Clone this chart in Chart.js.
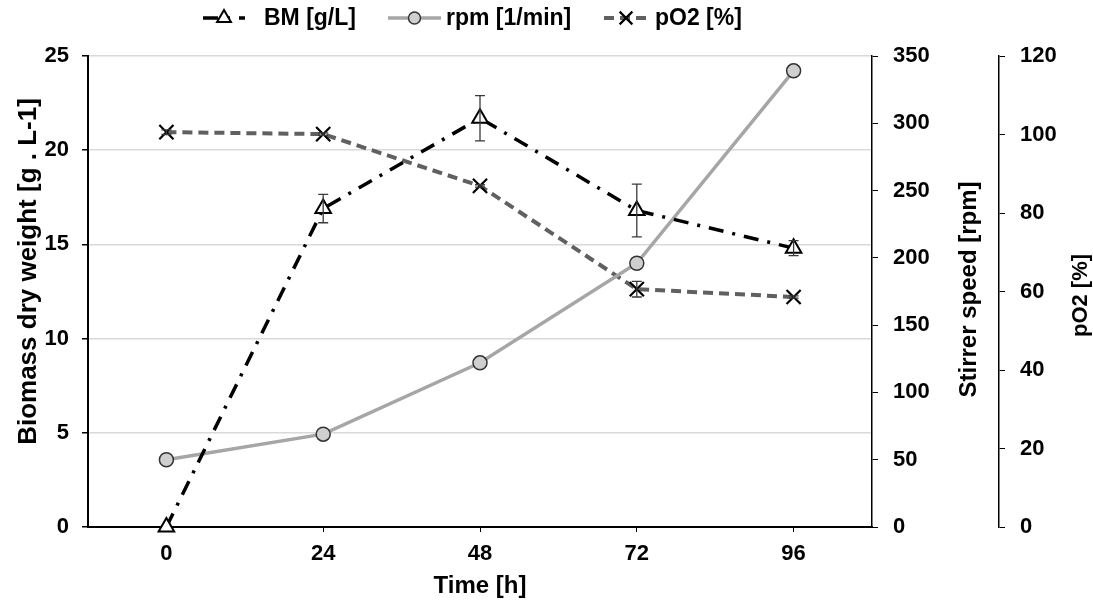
<!DOCTYPE html>
<html>
<head>
<meta charset="utf-8">
<script src="https://cdn.jsdelivr.net/npm/chart.js@4.4.0/dist/chart.umd.min.js"></script>
<style>
  html, body { margin: 0; padding: 0; background: #fff; }
  #wrap { width: 1093px; height: 603px; }
</style>
</head>
<body>
<div id="wrap"><canvas id="chart" width="1093" height="603"></canvas></div>
<script>
const hours = [0, 24, 48, 72, 96];
const biomass = [0, 16.9, 21.7, 16.8, 14.8];
const biomassErr = [0, 0.75, 1.2, 1.4, 0.4];
const rpm = [50, 69, 122, 196, 339];
const pO2 = [100.6, 100.1, 86.9, 60.6, 58.6];
const pO2Err = [0.6, 0.3, 0.3, 2, 0.3];

const font = "'Liberation Sans', Arial, sans-serif";
const tickFont = { family: font, size: 22, weight: "bold" };
const titleFont = (size) => ({ family: font, size: size, weight: "bold" });

const pts = (vals) => hours.map((h, i) => ({ x: h, y: vals[i] }));

const errorBars = {
  id: "errorBars",
  afterDatasetsDraw(chart) {
    const ctx = chart.ctx;
    chart.data.datasets.forEach((ds, di) => {
      if (!ds.errors) return;
      const meta = chart.getDatasetMeta(di);
      const yScale = chart.scales[ds.yAxisID];
      ctx.save();
      ctx.strokeStyle = "#3a3a3a";
      ctx.lineWidth = 1.3;
      meta.data.forEach((pt, i) => {
        const e = ds.errors[i];
        if (!e) return;
        const v = ds.data[i].y;
        const top = yScale.getPixelForValue(v + e);
        const bot = yScale.getPixelForValue(v - e);
        ctx.beginPath();
        ctx.moveTo(pt.x, top); ctx.lineTo(pt.x, bot);
        ctx.moveTo(pt.x - 5, top); ctx.lineTo(pt.x + 5, top);
        ctx.moveTo(pt.x - 5, bot); ctx.lineTo(pt.x + 5, bot);
        ctx.stroke();
      });
      ctx.restore();
    });
  }
};

// y titles all read bottom-to-top, so they are drawn here
const yTitles = {
  id: "yTitles",
  afterDraw(chart) {
    const ctx = chart.ctx;
    const mid = (chart.chartArea.top + chart.chartArea.bottom) / 2;
    const list = [
      { text: "Biomass dry weight [g . L-1]", x: chart.scales.y.left + 29, y: mid - 20, size: 26 },
      { text: "Stirrer speed [rpm]", x: chart.scales.y1.right - 30, y: mid - 2, size: 24 },
      { text: "pO2 [%]", x: chart.scales.y2.right - 12, y: mid + 4, size: 22 }
    ];
    list.forEach((t) => {
      ctx.save();
      ctx.translate(t.x, t.y);
      ctx.rotate(-Math.PI / 2);
      ctx.fillStyle = "#000";
      ctx.font = "bold " + t.size + "px " + font;
      ctx.textAlign = "center";
      ctx.textBaseline = "middle";
      ctx.fillText(t.text, 0, 0);
      ctx.restore();
    });
  }
};

// legend with line + marker, like the spreadsheet one
const lineLegend = {
  id: "lineLegend",
  afterDraw(chart) {
    const ctx = chart.ctx;
    const items = [
      { ds: 0, x0: 203, x1: 245, text: 264 },
      { ds: 1, x0: 388, x1: 441, text: 446 },
      { ds: 2, x0: 604, x1: 648, text: 655 }
    ];
    const y = 18;
    items.forEach((it) => {
      const ds = chart.data.datasets[it.ds];
      ctx.save();
      ctx.strokeStyle = ds.borderColor;
      ctx.lineWidth = ds.borderWidth;
      ctx.setLineDash(ds.borderDash || []);
      ctx.beginPath();
      ctx.moveTo(it.x0, y); ctx.lineTo(it.x1, y);
      ctx.stroke();
      ctx.setLineDash([]);
      ctx.fillStyle = ds.pointBackgroundColor;
      ctx.strokeStyle = ds.pointBorderColor;
      ctx.lineWidth = ds.pointBorderWidth;
      Chart.helpers.drawPoint(ctx, {
        pointStyle: ds.pointStyle, radius: ds.pointRadius - 1,
        rotation: 0, borderWidth: ds.pointBorderWidth
      }, (it.x0 + it.x1) / 2, y);
      ctx.fillStyle = "#000";
      ctx.font = "bold 23px " + font;
      ctx.textBaseline = "middle";
      ctx.fillText(ds.label, it.text, y + 1);
      ctx.restore();
    });
  }
};

new Chart(document.getElementById("chart").getContext("2d"), {
  type: "line",
  data: {
    datasets: [
      {
        label: "BM [g/L]",
        data: pts(biomass),
        errors: biomassErr,
        yAxisID: "y",
        clip: false,
        borderColor: "#000",
        borderWidth: 3.5,
        borderDash: [15, 9, 3, 9],
        pointStyle: "triangle",
        pointRadius: 9,
        pointBackgroundColor: "#fff",
        pointBorderColor: "#000",
        pointBorderWidth: 2
      },
      {
        label: "rpm [1/min]",
        data: pts(rpm),
        yAxisID: "y1",
        clip: false,
        borderColor: "#a6a6a6",
        borderWidth: 3.5,
        pointStyle: "circle",
        pointRadius: 7,
        pointBackgroundColor: "#cfcfcf",
        pointBorderColor: "#333",
        pointBorderWidth: 1.5
      },
      {
        label: "pO2 [%]",
        data: pts(pO2),
        errors: pO2Err,
        yAxisID: "y2",
        clip: false,
        borderColor: "#606060",
        borderWidth: 4,
        borderDash: [10, 6],
        pointStyle: "crossRot",
        pointRadius: 10,
        pointBackgroundColor: "#000",
        pointBorderColor: "#000",
        pointBorderWidth: 2.2
      }
    ]
  },
  options: {
    responsive: false,
    animation: false,
    layout: { padding: { top: 56, left: 0, right: 0, bottom: 0 } },
    plugins: { legend: { display: false }, tooltip: { enabled: false } },
    elements: { line: { tension: 0 } },
    scales: {
      x: {
        type: "linear",
        min: -12,
        max: 108,
        afterBuildTicks: (s) => { s.ticks = hours.map((v) => ({ value: v })); },
        afterFit: (s) => { s.height = 76; },
        border: { color: "#000", width: 2 },
        grid: { drawOnChartArea: false, tickLength: 5, tickColor: "#000" },
        ticks: { color: "#000", font: tickFont, padding: 9 },
        title: { display: true, text: "Time [h]", color: "#000", font: titleFont(24), padding: { top: 0, bottom: 2 } }
      },
      y: {
        position: "left",
        min: 0,
        max: 25,
        afterFit: (s) => { s.width = 88; },
        border: { color: "#000", width: 2 },
        grid: { color: "#d9d9d9", lineWidth: 1.5, tickLength: 6, tickColor: "#000" },
        ticks: { stepSize: 5, color: "#000", font: tickFont, padding: 13 }
      },
      y1: {
        position: "right",
        min: 0,
        max: 350,
        afterFit: (s) => { s.width = 127; },
        border: { color: "#000", width: 1.5 },
        grid: { drawOnChartArea: false, tickLength: 6, tickColor: "#000" },
        ticks: { stepSize: 50, color: "#000", font: tickFont, padding: 15 }
      },
      y2: {
        position: "right",
        min: 0,
        max: 120,
        afterFit: (s) => { s.width = 94; },
        border: { color: "#000", width: 1.5 },
        grid: { drawOnChartArea: false, tickLength: 6, tickColor: "#000" },
        ticks: { stepSize: 20, color: "#000", font: tickFont, padding: 15 }
      }
    }
  },
  plugins: [errorBars, yTitles, lineLegend]
});
</script>
</body>
</html>
